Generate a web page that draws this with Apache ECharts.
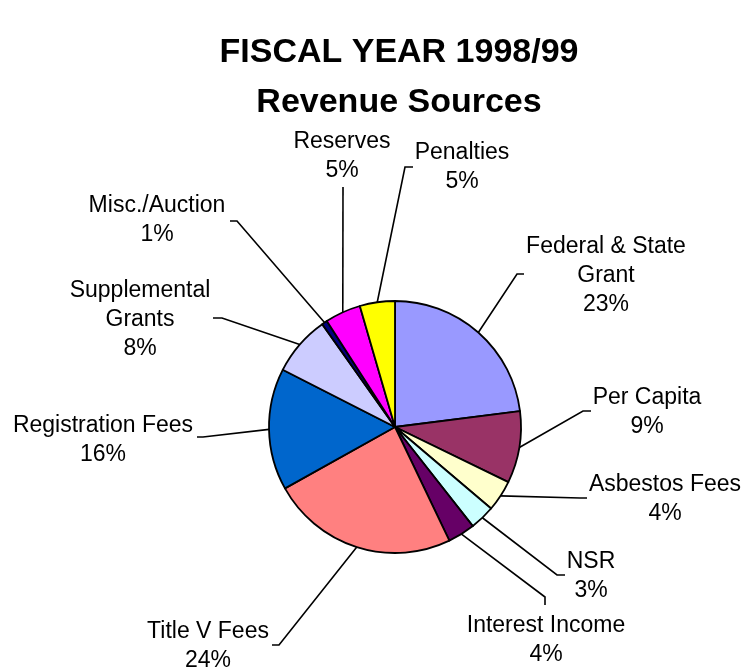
<!DOCTYPE html>
<html>
<head>
<meta charset="utf-8">
<script src="https://cdn.jsdelivr.net/npm/echarts@6/dist/echarts.min.js"></script>
<style>
html,body{margin:0;padding:0;background:#fff;}
#chart{width:744px;height:669px;}
</style>
</head>
<body>
<div id="chart"></div>
<script>
// Data (percent of revenue), clockwise from 12 o'clock
const categories = [
  'Federal & State\nGrant', 'Per Capita', 'Asbestos Fees', 'NSR', 'Interest Income',
  'Title V Fees', 'Registration Fees', 'Supplemental\nGrants', 'Misc./Auction',
  'Reserves', 'Penalties'
];
const values = [23.0, 9.2, 4.0, 3.2, 3.5, 24.0, 15.6, 7.7, 0.7, 4.6, 4.5];
const colors = ['#9999FF', '#993366', '#FFFFCC', '#CCFFFF', '#660066',
  '#FF8080', '#0066CC', '#CCCCFF', '#000080', '#FF00FF', '#FFFF00'];

// Label layout (style): label centre, leader elbow, leader end
const labelLayouts = [
  {x: 606, y: 276, elbow: [517, 274], end: [524, 274]},
  {x: 647, y: 412, elbow: [583, 411], end: [591, 411]},
  {x: 665, y: 499, elbow: [580, 498], end: [587, 498]},
  {x: 591, y: 576, elbow: [557, 575], end: [565, 575]},
  {x: 546, y: 640, elbow: [545, 597], end: [545, 605]},
  {x: 208, y: 646, elbow: [279, 645], end: [272, 645]},
  {x: 103, y: 440, elbow: [203, 437], end: [197, 437]},
  {x: 140, y: 320, elbow: [222, 318], end: [213, 318]},
  {x: 157, y: 220, elbow: [237, 221], end: [230, 221]},
  {x: 342, y: 156, elbow: [343, 187], end: [343, 187]},
  {x: 462, y: 167, elbow: [405, 167], end: [413, 167]}
];

const chart = echarts.init(document.getElementById('chart'));
chart.setOption({
  backgroundColor: '#ffffff',
  animation: false,
  title: {
    text: 'FISCAL YEAR 1998/99\nRevenue Sources',
    left: 394,
    textAlign: 'center',
    top: 23,
    textStyle: {
      fontFamily: 'Liberation Sans',
      fontWeight: 'bold',
      fontSize: 34,
      lineHeight: 50,
      color: '#000'
    }
  },
  series: [{
    type: 'pie',
    center: [395, 427],
    radius: 126,
    startAngle: 90,
    clockwise: true,
    avoidLabelOverlap: false,
    data: categories.map((n, i) => ({name: n, value: values[i], itemStyle: {color: colors[i]}})),
    itemStyle: {borderColor: '#000', borderWidth: 1.8},
    label: {
      show: true,
      position: 'outside',
      fontFamily: 'Liberation Sans',
      fontSize: 23,
      lineHeight: 29,
      color: '#000',
      align: 'center',
      formatter: p => p.name + '\n' + Math.round(p.value) + '%'
    },
    labelLine: {
      show: true,
      length: 10,
      length2: 10,
      smooth: false,
      lineStyle: {color: '#000', width: 1.6}
    },
    labelLayout: function (params) {
      const L = labelLayouts[params.dataIndex];
      const start = params.labelLinePoints ? params.labelLinePoints[0] : L.elbow;
      return {
        x: L.x,
        y: L.y,
        align: 'center',
        verticalAlign: 'middle',
        labelLinePoints: [start, L.elbow, L.end]
      };
    },
    emphasis: {disabled: true}
  }]
});
</script>
</body>
</html>
